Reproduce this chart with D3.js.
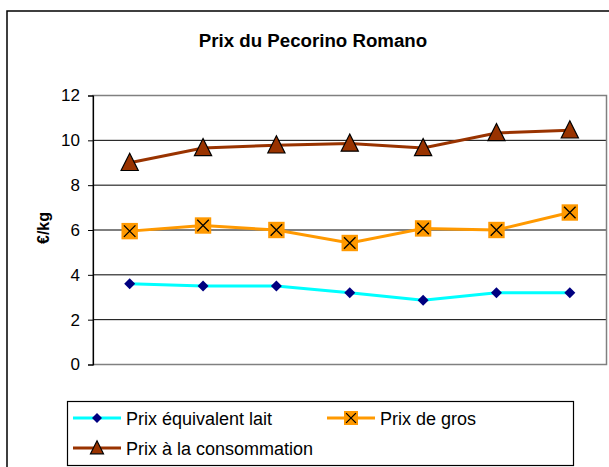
<!DOCTYPE html>
<style>
  html, body { margin:0; background:#fff; }
  svg text { font-family: "Liberation Sans", Arial, sans-serif; fill:#000; }
</style>
<svg width="609" height="467"></svg>
<script src="https://cdn.jsdelivr.net/npm/d3@7"></script>
<script>

var periods = ["1", "2", "3", "4", "5", "6", "7"];
var laitValues = [3.6, 3.5, 3.5, 3.2, 2.87, 3.2, 3.2];
var grosValues = [5.95, 6.2, 6.0, 5.42, 6.07, 6.0, 6.78];
var consoValues = [9.0, 9.66, 9.78, 9.86, 9.66, 10.33, 10.45];
var yTicks = [0, 2, 4, 6, 8, 10, 12];

var series = [
  { name: "Prix équivalent lait", values: laitValues, color: "#00ffff", marker: "diamond" },
  { name: "Prix de gros", values: grosValues, color: "#ff9900", marker: "square" },
  { name: "Prix à la consommation", values: consoValues, color: "#993300", marker: "triangle" }
];

var svg = d3.select("svg");

// chart frame
svg.append("rect")
    .attr("x", 7).attr("y", 11).attr("width", 640).attr("height", 500)
    .attr("fill", "#fff").attr("stroke", "#000").attr("stroke-width", 1.5);

svg.append("text")
    .attr("x", 313).attr("y", 47)
    .attr("text-anchor", "middle")
    .style("font-size", "18.7px").style("font-weight", "bold")
    .text("Prix du Pecorino Romano");

var plotLeft = 93, plotRight = 606.5, plotTop = 95.5, plotBottom = 364.5;

var x = d3.scaleBand().domain(periods).range([plotLeft, plotRight]);
var y = d3.scaleLinear().domain([0, 12]).range([plotBottom, plotTop]);

// gridlines
svg.append("g")
  .selectAll("line")
  .data(yTicks.filter(function(d) { return d > 0 && d < 12; }))
  .enter().append("line")
    .attr("x1", plotLeft).attr("x2", plotRight)
    .attr("y1", function(d) { return y(d); })
    .attr("y2", function(d) { return y(d); })
    .attr("stroke", "#000").attr("stroke-width", 1);

// plot border
svg.append("rect")
    .attr("x", plotLeft).attr("y", plotTop)
    .attr("width", plotRight - plotLeft).attr("height", plotBottom - plotTop)
    .attr("fill", "none").attr("stroke", "#808080").attr("stroke-width", 1.5);

var yAxis = svg.append("g")
    .attr("transform", "translate(" + plotLeft + ",0)")
    .call(d3.axisLeft(y).tickValues(yTicks).tickSize(5).tickPadding(8));
yAxis.select(".domain").attr("stroke", "#000").attr("stroke-width", 1.2);
yAxis.selectAll(".tick line").attr("stroke", "#000");
yAxis.selectAll(".tick text")
    .style("font-size", "17px")
    .style("font-family", "'Liberation Sans', Arial, sans-serif");

svg.append("text")
    .attr("transform", "translate(49,228) rotate(-90)")
    .attr("text-anchor", "middle")
    .style("font-size", "16px").style("font-weight", "bold")
    .text("€/kg");

function drawMarker(g, type, color, s) {
  if (type === "diamond") {
    g.append("path")
        .attr("d", "M0," + (-s) + "L" + s + ",0L0," + s + "L" + (-s) + ",0Z")
        .attr("fill", "#000080");
  } else if (type === "square") {
    g.append("rect")
        .attr("x", -s).attr("y", -s).attr("width", 2 * s).attr("height", 2 * s)
        .attr("fill", color);
    var k = s * 0.7;
    g.append("path")
        .attr("d", "M" + (-k) + "," + (-k) + "L" + k + "," + k + "M" + k + "," + (-k) + "L" + (-k) + "," + k)
        .attr("stroke", "#000").attr("stroke-width", 1.3);
  } else {
    g.append("path")
        .attr("d", "M0," + (-s * 1.1) + "L" + s + "," + (s * 0.9) + "L" + (-s) + "," + (s * 0.9) + "Z")
        .attr("fill", color).attr("stroke", "#000").attr("stroke-width", 1.2);
  }
}

var markerSize = { diamond: 5.5, square: 8.2, triangle: 8.6 };

var line = d3.line()
    .x(function(d, i) { return x(periods[i]) + x.bandwidth() / 2; })
    .y(function(d) { return y(d); });

series.forEach(function(s) {
  svg.append("path")
      .attr("d", line(s.values))
      .attr("fill", "none")
      .attr("stroke", s.color)
      .attr("stroke-width", 3);
  s.values.forEach(function(v, i) {
    var g = svg.append("g")
        .attr("transform", "translate(" + (x(periods[i]) + x.bandwidth() / 2) + "," + y(v) + ")");
    drawMarker(g, s.marker, s.color, markerSize[s.marker]);
  });
});

// legend
var legend = svg.append("g");
legend.append("rect")
    .attr("x", 67.5).attr("y", 401.5).attr("width", 506).attr("height", 64)
    .attr("fill", "#fff").attr("stroke", "#000").attr("stroke-width", 1.2);

var legendPos = [[73, 418], [327, 418], [73, 448]];
var legendMarker = { diamond: 5, square: 7, triangle: 6.5 };
series.forEach(function(s, i) {
  var p = legendPos[i];
  var g = legend.append("g").attr("transform", "translate(" + p[0] + "," + p[1] + ")");
  g.append("line").attr("x1", 0).attr("x2", 48)
      .attr("stroke", s.color).attr("stroke-width", 3);
  var m = g.append("g").attr("transform", "translate(24,0)");
  drawMarker(m, s.marker, s.color, legendMarker[s.marker]);
  g.append("text")
      .attr("x", 53).attr("y", 6.5)
      .style("font-size", "18px")
      .text(s.name);
});

</script>
